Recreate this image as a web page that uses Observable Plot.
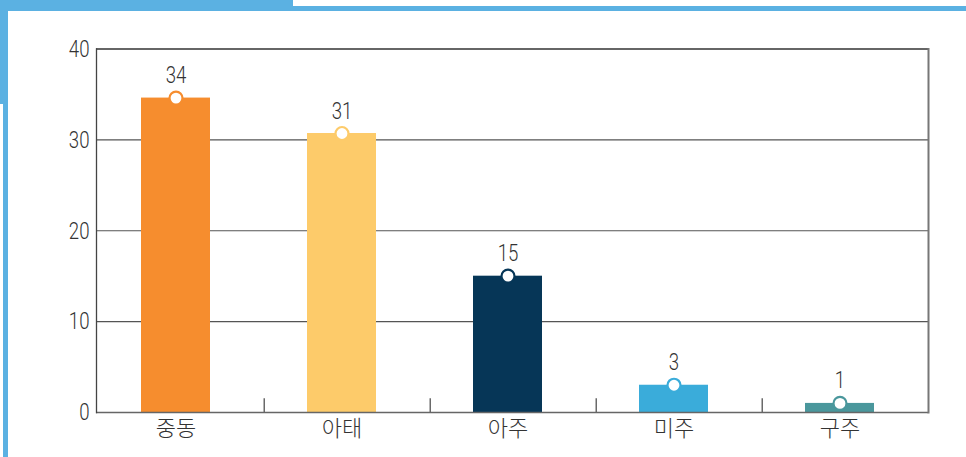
<!DOCTYPE html>
<html>
<head>
<meta charset="utf-8">
<script src="https://cdn.jsdelivr.net/npm/d3@7"></script>
<script src="https://cdn.jsdelivr.net/npm/@observablehq/plot@0.6"></script>
<style>
  html, body { margin: 0; padding: 0; background: #fff; }
  #wrap { position: relative; width: 966px; height: 457px; overflow: hidden; }
  .deco { position: absolute; background: #5BB1E2; }
  #chart { position: absolute; left: 0; top: 0; }
</style>
</head>
<body>
<div id="wrap">
  <div class="deco" style="left:0;top:0;width:293px;height:11px"></div>
  <div class="deco" style="left:293px;top:6px;width:673px;height:5px"></div>
  <div class="deco" style="left:0;top:0;width:8px;height:104px"></div>
  <div class="deco" style="left:3px;top:104px;width:5px;height:353px"></div>
  <div id="chart"></div>
</div>
<script>
const categories = ["중동", "아태", "아주", "미주", "구주"];
const values = [34.6, 30.7, 15, 3, 1];
const valueLabels = ["34", "31", "15", "3", "1"];
const colors = ["#F68D2E", "#FDCB6A", "#063657", "#3AACDA", "#4A979C"];
const yTicks = [0, 10, 20, 30, 40];
const gridValues = [10, 20, 30];

const data = categories.map((c, i) => ({cat: c, value: values[i], label: valueLabels[i], color: colors[i]}));

const W = 966, H = 457, ML = 96, MR = 38, MT = 48.5, MB = 45;
const step = (W - ML - MR) / categories.length;
const numFont = "Roboto, 'Liberation Sans', sans-serif";
const off = -5;

const chart = Plot.plot({
  width: W,
  height: H,
  marginLeft: ML,
  marginRight: MR,
  marginTop: MT,
  marginBottom: MB,
  style: {background: "transparent", overflow: "visible"},
  x: {domain: categories, paddingInner: 0.585, paddingOuter: 0.2925, axis: null},
  y: {domain: [0, 40], axis: null},
  marks: [
    Plot.ruleY(gridValues, {stroke: "#555", strokeWidth: 1.2}),
    Plot.ruleY([40], {stroke: "#333", strokeWidth: 1.5}),
    Plot.ruleX(categories.slice(0, categories.length - 1), {x: d => d, dx: step / 2, y1: 0, y2: 1.5, stroke: "#444", strokeWidth: 1.2}),
    Plot.barY(data, {x: "cat", y: "value", fill: "color", dx: off}),
    Plot.ruleY([0], {stroke: "#666", strokeWidth: 1.5}),
    Plot.axisY({ticks: yTicks, label: null, tickSize: 0, tickPadding: 7, fontSize: 24.5, fontFamily: numFont, fontWeight: 300, color: "#333", fill: "#333"}),
    Plot.frame({anchor: "left", stroke: "#444", strokeWidth: 1.3}),
    Plot.frame({anchor: "right", stroke: "#777", strokeWidth: 2}),
    Plot.dot(data, {x: "cat", y: "value", r: 6.5, fill: "white", stroke: "color", strokeWidth: 2.2, dx: off}),
    Plot.text(data, {x: "cat", y: "value", text: "label", dx: off, dy: -15, lineAnchor: "bottom", fontSize: 24.5, fontFamily: numFont, fontWeight: 300, fill: "#333"}),
    Plot.text(data, {x: "cat", text: "cat", frameAnchor: "bottom", dx: off, dy: 8, lineAnchor: "top", fontSize: 22, fontFamily: "'Noto Sans CJK KR', sans-serif", fontWeight: 300, fill: "#333"})
  ]
});
document.getElementById("chart").appendChild(chart);

// condense the numeric glyphs to mimic the narrow typeface of the original
chart.querySelectorAll('g[font-family^="Roboto"] text').forEach(t => {
  const len = t.getComputedTextLength();
  t.setAttribute("textLength", (len * 0.76).toFixed(2));
  t.setAttribute("lengthAdjust", "spacingAndGlyphs");
});
</script>
</body>
</html>
